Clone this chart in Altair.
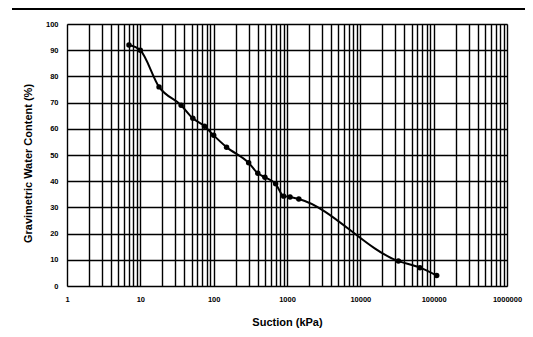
import altair as alt
import pandas as pd

suction = [7, 10, 18, 36, 52, 75, 100, 150, 300, 400, 500, 700, 900, 1100, 1450, 33000, 65000, 110000]
water = [92, 90, 76, 69, 64, 61, 57.5, 53, 47, 43, 41.5, 39, 34.3, 34, 33.2, 9.5, 7, 4]

x_grid = [m * 10 ** k for k in range(0, 6) for m in range(1, 10)] + [1000000]
x_labels = [1, 10, 100, 1000, 10000, 100000, 1000000]
y_ticks = [0, 10, 20, 30, 40, 50, 60, 70, 80, 90, 100]

df = pd.DataFrame({"s": suction, "w": water})

label_list = ",".join(str(v) for v in x_labels)

x_enc = alt.X(
    "s:Q",
    scale=alt.Scale(type="log", domain=[1, 1000000]),
    axis=alt.Axis(
        values=x_grid,
        format="d",
        labelExpr=f"indexof([{label_list}], datum.value) >= 0 ? datum.label : ''",
        title="Suction (kPa)",
        grid=True,
        gridColor="#000000",
        gridWidth=1.4,
        gridOpacity=1,
        ticks=False,
        domain=False,
        labelPadding=9,
        labelFont="Liberation Sans",
        labelFontWeight="bold",
        labelFontSize=7.5,
        labelColor="#000000",
        labelFlush=False,
        labelOverlap=False,
        titleFont="Liberation Sans",
        titleFontWeight="bold",
        titleFontSize=11,
        titleColor="#000000",
        titlePadding=14,
    ),
)
y_enc = alt.Y(
    "w:Q",
    scale=alt.Scale(domain=[0, 100]),
    axis=alt.Axis(
        values=y_ticks,
        title="Gravimetric Water Content (%)",
        grid=True,
        gridColor="#000000",
        gridWidth=1.4,
        gridOpacity=1,
        ticks=False,
        domain=False,
        labelPadding=9,
        labelFont="Liberation Sans",
        labelFontWeight="bold",
        labelFontSize=7.5,
        labelColor="#000000",
        labelOverlap=False,
        labelFlush=False,
        titleFont="Liberation Sans",
        titleFontWeight="bold",
        titleFontSize=11,
        titleColor="#000000",
        titlePadding=12,
        titleY=139,
    ),
)

base = alt.Chart(df).encode(x=x_enc, y=y_enc)
line = base.mark_line(color="#000000", strokeWidth=2, interpolate="monotone")
pts = base.mark_circle(color="#000000", size=30, opacity=1)

frame_top = alt.Chart(df).mark_rule(color="#000000", strokeWidth=1).encode(
    x=alt.value(-55), x2=alt.value(458), y=alt.value(-15)
)

chart = (
    alt.layer(line, pts, frame_top)
    .properties(
        width=440,
        height=262,
        autosize=alt.AutoSizeParams(type="none"),
        padding={"left": 59, "top": 16, "right": 18, "bottom": 43},
        background="#ffffff",
    )
    .configure_view(stroke="#555555", strokeDash=[2, 2], strokeWidth=1)
)

chart.save("out.html", embed_options={"renderer": "svg", "actions": False})
